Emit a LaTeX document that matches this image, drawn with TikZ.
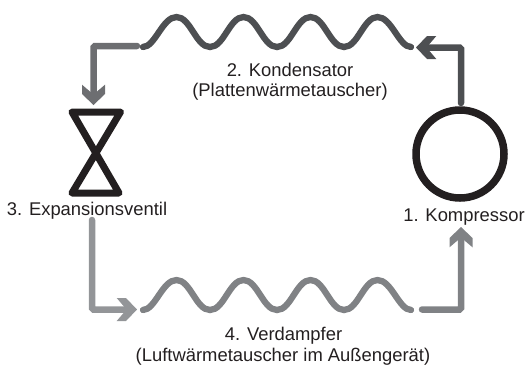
\documentclass[tikz,border=0pt]{standalone}
\usepackage{fontspec}
\setmainfont{Liberation Sans}
\usetikzlibrary{arrows.meta}
\definecolor{txtc}{HTML}{231F20}
\definecolor{darkg}{HTML}{4D4F52}
\definecolor{midg}{HTML}{6D6E71}
\definecolor{lightg}{HTML}{939598}
\definecolor{wavelow}{HTML}{808285}
\pgfdeclarearrow{
  name=Chev,
  setup code={%
    \pgfarrowssettipend{0pt}%
    \pgfarrowssetlineend{-9pt}%
    \pgfarrowssetvisualbackend{-20.3pt}%
    \pgfarrowssetbackend{-20.3pt}%
    \pgfarrowsupperhullpoint{-20.3pt}{11.5pt}%
    \pgfarrowshullpoint{0pt}{0pt}%
  },
  drawing code={%
    \pgfpathmoveto{\pgfqpoint{0pt}{0pt}}%
    \pgfpathlineto{\pgfqpoint{-11pt}{11.5pt}}%
    \pgfpathlineto{\pgfqpoint{-20.3pt}{11.5pt}}%
    \pgfpathlineto{\pgfqpoint{-10.5pt}{0pt}}%
    \pgfpathlineto{\pgfqpoint{-20.3pt}{-11.5pt}}%
    \pgfpathlineto{\pgfqpoint{-11pt}{-11.5pt}}%
    \pgfpathclose
    \pgfusepathqfill
  }
}
\tikzset{
  lbl/.style={anchor=base,text=txtc,font=\fontsize{18.4}{22}\selectfont,inner sep=0pt},
  wave/.style={line width=6.3pt,line cap=round},
  pipe/.style={line width=6.5pt,rounded corners=1.5pt,line cap=round,-{Chev}},
  sym/.style={line width=7pt,draw=txtc,line join=round},
}
\begin{document}
\begin{tikzpicture}[x=1pt,y=-1pt]
\useasboundingbox (0,0) rectangle (526,365);
% labels
\node[lbl] (l2a) at (290,76) {2. Kondensator};
\node[lbl] (l2b) at (290,96) {(Plattenwärmetauscher)};
\node[lbl] (l3) at (87,215) {3. Expansionsventil};
\node[lbl] (l1) at (464,221) {1. Kompressor};
\node[lbl] (l4a) at (283.5,340) {4. Verdampfer};
\node[lbl] (l4b) at (283,361) {(Luftwärmetauscher im Außengerät)};
% compressor
\node[circle,draw=txtc,line width=7.5pt,minimum size=88pt,inner sep=0pt] (comp) at (460,154) {};
% valve
\coordinate (vtl) at (72,112);
\coordinate (vtr) at (120.5,112);
\coordinate (vbl) at (72,193);
\coordinate (vbr) at (119,193);
\draw[sym] (vtl) -- (vtr) -- (vbl) -- (vbr) -- cycle;
% coordinates
\coordinate (w2s) at (143,47);
\coordinate (w2e) at (411,47);
\coordinate (w4s) at (143,310);
\coordinate (w4e) at (411,310);
\coordinate (c1) at (461,103);
\coordinate (c1t) at (416,47.5);
\coordinate (c2) at (137,46);
\coordinate (c2t) at (93.5,105);
\coordinate (c3) at (92,220);
\coordinate (c3t) at (137,309.5);
\coordinate (c4) at (422,309.5);
\coordinate (c4t) at (461,227);
% waves
\draw[wave,draw=darkg] (w2s)
  .. controls +(12,0) and +(-14,0) .. ++(33.5,-30)
  .. controls +(14,0) and +(-14,0) .. ++(33.5,30)
  .. controls +(14,0) and +(-14,0) .. ++(33.5,-30)
  .. controls +(14,0) and +(-14,0) .. ++(33.5,30)
  .. controls +(14,0) and +(-14,0) .. ++(33.5,-30)
  .. controls +(14,0) and +(-14,0) .. ++(33.5,30)
  .. controls +(14,0) and +(-14,0) .. ++(33.5,-30)
  .. controls +(14,0) and +(-12,0) .. (w2e);
\draw[wave,draw=wavelow] (w4s)
  .. controls +(12,0) and +(-14,0) .. ++(33.5,-30)
  .. controls +(14,0) and +(-14,0) .. ++(33.5,30)
  .. controls +(14,0) and +(-14,0) .. ++(33.5,-30)
  .. controls +(14,0) and +(-14,0) .. ++(33.5,30)
  .. controls +(14,0) and +(-14,0) .. ++(33.5,-30)
  .. controls +(14,0) and +(-14,0) .. ++(33.5,30)
  .. controls +(14,0) and +(-14,0) .. ++(33.5,-30)
  .. controls +(14,0) and +(-12,0) .. (w4e);
% pipes
\draw[pipe,draw=darkg] (c1) |- (c1t);
\draw[pipe,draw=midg] (c2) -| (c2t);
\draw[pipe,draw=lightg] (c3) |- (c3t);
\draw[pipe,draw=wavelow] (c4) -| (c4t);
\end{tikzpicture}
\end{document}
